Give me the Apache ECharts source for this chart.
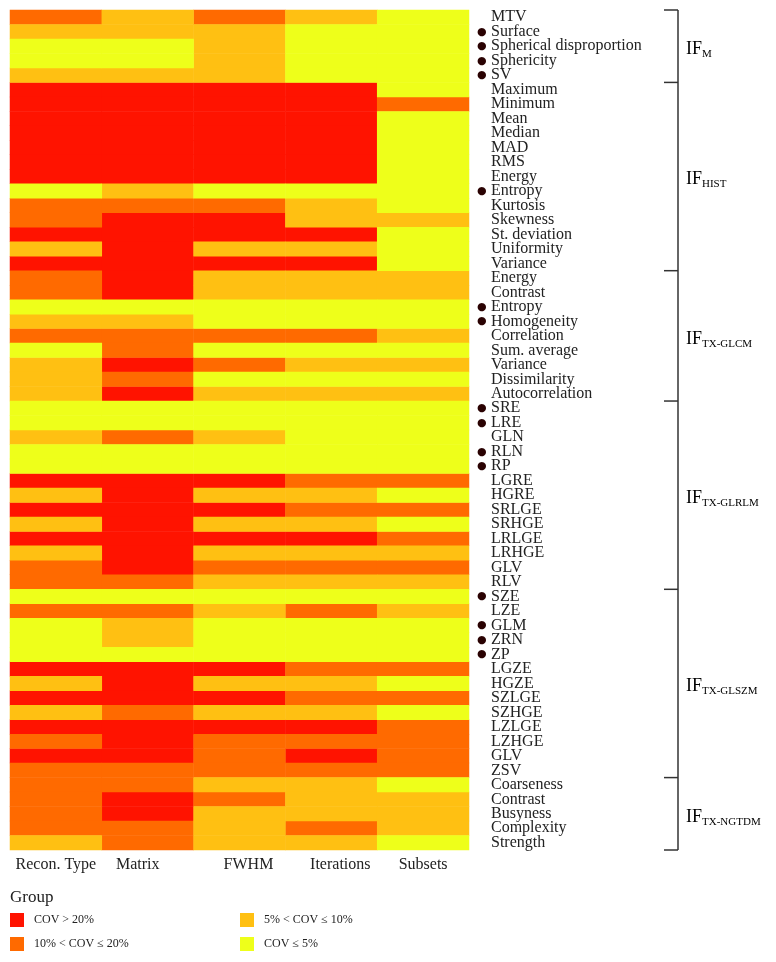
<!DOCTYPE html>
<html>
<head>
<meta charset="utf-8">
<script src="https://cdn.jsdelivr.net/npm/echarts@6/dist/echarts.min.js"></script>
<style>
html, body { margin: 0; padding: 0; background: #fff; }
#main { width: 776px; height: 962px; }
</style>
</head>
<body>
<div id="main"></div>
<script>
// columns and row features
var params = ['Recon. Type', 'Matrix', 'FWHM', 'Iterations', 'Subsets'];
var features = [
    'MTV', 'Surface', 'Spherical disproportion', 'Sphericity', 'SV',
    'Maximum', 'Minimum', 'Mean', 'Median', 'MAD', 'RMS', 'Energy', 'Entropy',
    'Kurtosis', 'Skewness', 'St. deviation', 'Uniformity', 'Variance',
    'Energy', 'Contrast', 'Entropy', 'Homogeneity', 'Correlation', 'Sum. average',
    'Variance', 'Dissimilarity', 'Autocorrelation',
    'SRE', 'LRE', 'GLN', 'RLN', 'RP', 'LGRE', 'HGRE', 'SRLGE', 'SRHGE', 'LRLGE',
    'LRHGE', 'GLV', 'RLV',
    'SZE', 'LZE', 'GLM', 'ZRN', 'ZP', 'LGZE', 'HGZE', 'SZLGE', 'SZHGE', 'LZLGE',
    'LZHGE', 'GLV', 'ZSV',
    'Coarseness', 'Contrast', 'Busyness', 'Complexity', 'Strength'
];
// rows marked with a dot
var marked = [1, 2, 3, 4, 12, 20, 21, 27, 28, 30, 31, 40, 42, 43, 44];

var groupNames = ['M', 'HIST', 'TX-GLCM', 'TX-GLRLM', 'TX-GLSZM', 'TX-NGTDM'];
var groupSizes = [5, 13, 9, 13, 13, 5];

// level 0: COV<=5%, 1: 5-10%, 2: 10-20%, 3: >20%
var levelNames = ['COV ≤ 5%', '5% < COV ≤ 10%', '10% < COV ≤ 20%', 'COV > 20%'];
var levelColors = ['#eeff1a', '#ffc012', '#ff6a00', '#ff1300'];

var reconType = [2,1,0,0,1, 3,3,3,3,3,3,3,0,2,2,3,1,3, 2,2,0,1,2,0,1,1,1,
    0,0,1,0,0,3,1,3,1,3,1,2,2, 0,2,0,0,0,3,1,3,1,3,2,3,2, 2,2,2,2,1];
var matrix = [1,1,0,0,1, 3,3,3,3,3,3,3,1,2,3,3,3,3, 3,3,0,1,2,2,3,2,3,
    0,0,2,0,0,3,3,3,3,3,3,3,2, 0,2,1,1,0,3,3,3,2,3,3,3,2, 2,3,3,2,2];
var fwhm = [2,1,1,1,1, 3,3,3,3,3,3,3,0,2,3,3,1,3, 1,1,0,0,2,0,2,0,1,
    0,0,1,0,0,3,1,3,1,3,1,2,1, 0,1,0,0,0,3,1,3,1,3,2,2,2, 1,2,1,1,1];
var iterations = [1,0,0,0,0, 3,3,3,3,3,3,3,0,1,1,3,1,3, 1,1,0,0,2,0,1,0,1,
    0,0,0,0,0,2,1,2,1,3,1,2,1, 0,2,0,0,0,2,1,2,1,3,2,3,2, 1,1,1,2,1];
var subsets = [0,0,0,0,0, 0,2,0,0,0,0,0,0,0,1,0,0,0, 1,1,0,0,1,0,1,0,1,
    0,0,0,0,0,2,0,2,0,2,1,2,1, 0,1,0,0,0,2,0,2,0,2,2,2,2, 0,1,1,1,0];

var columns = [reconType, matrix, fwhm, iterations, subsets];
var serif = 'Liberation Serif';

var myChart = echarts.init(document.getElementById('main'));

// one heatmap series per level so the legend shows each group
var series = [];
for (var lv = 3; lv >= 0; lv--) {
    var pts = [];
    columns.forEach(function (col, c) {
        col.forEach(function (v, r) {
            if (v === lv) pts.push([c, r, v]);
        });
    });
    series.push({
        name: levelNames[lv],
        type: 'heatmap',
        data: pts,
        itemStyle: { color: levelColors[lv] },
        emphasis: { disabled: true }
    });
}

var legendText = { fontFamily: serif, fontSize: 12, color: '#222', padding: [0, 0, 0, 5] };

var option = {
    animation: false,
    color: [levelColors[3], levelColors[2], levelColors[1], levelColors[0]],
    title: {
        text: 'Group',
        left: 5,
        top: 884,
        textStyle: { fontFamily: serif, fontSize: 17, fontWeight: 'normal', color: '#222' }
    },
    legend: [{
        data: [levelNames[3], levelNames[2]],
        orient: 'vertical',
        left: 10,
        top: 913,
        padding: 0,
        itemWidth: 14,
        itemHeight: 14,
        itemGap: 10,
        icon: 'rect',
        selectedMode: false,
        textStyle: legendText
    }, {
        data: [levelNames[1], levelNames[0]],
        orient: 'vertical',
        left: 240,
        top: 913,
        padding: 0,
        itemWidth: 14,
        itemHeight: 14,
        itemGap: 10,
        icon: 'rect',
        selectedMode: false,
        textStyle: legendText
    }],
    grid: { left: 10, right: 307, top: 10, bottom: 112 },
    xAxis: {
        type: 'category',
        data: params,
        axisLine: { show: false },
        axisTick: { show: false },
        axisLabel: {
            interval: 0,
            fontFamily: serif,
            fontSize: 16,
            color: '#222',
            margin: 7,
            // labels in the original sit a little off the column centres
            formatter: function (value, index) {
                var key = ['c', 'l', 'r', 'r', 'c'][index];
                return '{' + key + '|' + value + '}';
            },
            rich: {
                c: { fontFamily: serif, fontSize: 16, color: '#222' },
                l: { fontFamily: serif, fontSize: 16, color: '#222', padding: [0, 20, 0, 0] },
                r: { fontFamily: serif, fontSize: 16, color: '#222', padding: [0, 0, 0, 18] }
            }
        },
        splitArea: { show: false }
    },
    yAxis: {
        type: 'category',
        data: features,
        inverse: true,
        position: 'right',
        axisLine: { show: false },
        axisTick: { show: false },
        axisLabel: {
            interval: 0,
            margin: 8,
            fontFamily: serif,
            fontSize: 16,
            color: '#222',
            formatter: function (value, index) {
                var pre = marked.indexOf(index) >= 0 ? '{d|●}' : '{s|}';
                return pre + '{t|' + features[index] + '}';
            },
            rich: {
                d: { fontFamily: 'DejaVu Sans', fontSize: 11, color: '#2a0202', width: 14 },
                s: { width: 14 },
                t: { fontFamily: serif, fontSize: 16, color: '#222' }
            }
        }
    },
    series: series
};
if (option && typeof option === "object") {
    myChart.setOption(option, true);
}

// group brackets on the right
function rowY(i) {
    return myChart.convertToPixel({ yAxisIndex: 0 }, i);
}
var band = rowY(1) - rowY(0);
var lineX = 678, tickX = 664;
var graphics = [];
var start = 0;
var edges = [rowY(0) - band / 2];
groupSizes.forEach(function (n, g) {
    var top = rowY(start) - band / 2;
    var bot = rowY(start + n - 1) + band / 2;
    edges.push(bot);
    graphics.push({
        type: 'text',
        x: lineX + 8,
        y: (top + bot) / 2 + 3,
        style: {
            text: '{a|IF}{b|' + groupNames[g] + '}',
            verticalAlign: 'middle',
            rich: {
                a: { fontFamily: serif, fontSize: 18, color: '#222', lineHeight: 18, verticalAlign: 'top' },
                b: { fontFamily: serif, fontSize: 11, color: '#222', lineHeight: 11, padding: [10, 0, 0, 0] }
            }
        }
    });
    start += n;
});
graphics.push({
    type: 'line',
    shape: { x1: lineX, y1: edges[0], x2: lineX, y2: edges[edges.length - 1] },
    style: { stroke: '#333', lineWidth: 1.5 }
});
edges.forEach(function (y) {
    graphics.push({
        type: 'line',
        shape: { x1: tickX, y1: y, x2: lineX, y2: y },
        style: { stroke: '#333', lineWidth: 1.5 }
    });
});
myChart.setOption({ graphic: graphics });
</script>
</body>
</html>
